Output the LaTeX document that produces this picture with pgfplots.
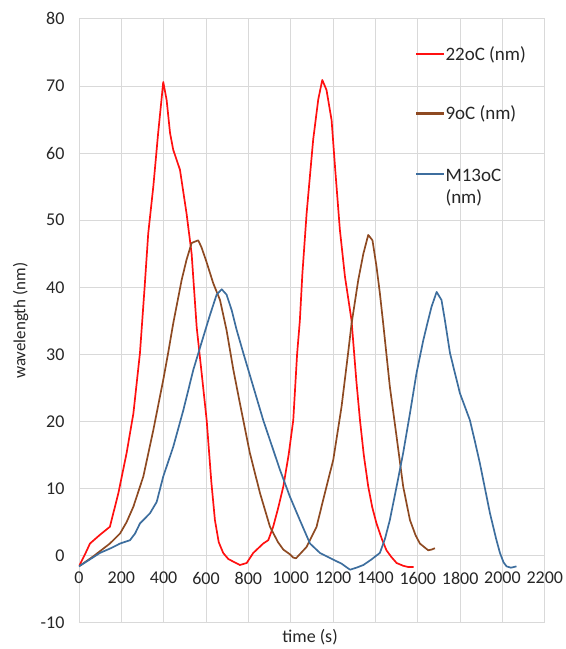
\documentclass[border=0pt]{standalone}
\usepackage{fontspec}
\setmainfont{Carlito}
\usepackage{pgfplots}
\pgfplotsset{compat=1.18}
\definecolor{cred}{HTML}{FF1010}
\definecolor{cbrown}{HTML}{8E4A22}
\definecolor{cblue}{HTML}{3D6E9E}
\definecolor{cgrid}{HTML}{D9D9D9}
\begin{document}
\begin{tikzpicture}
\useasboundingbox (-79pt,-26.3pt) rectangle (487pt,622.9pt);
\begin{axis}[
  at={(0pt,0pt)}, anchor=south west,
  scale only axis, width=466pt, height=604pt,
  xmin=0, xmax=2200, ymin=-10, ymax=80,
  xtick={0,200,...,2200}, ytick={-10,0,...,80},
  grid=major, major grid style={cgrid, line width=0.8pt},
  axis line style={draw=none},
  major tick length=0pt,
  /pgf/number format/assume math mode=true,
  /pgf/number format/1000 sep={},
  tick label style={font=\fontsize{18}{21.6}\selectfont, text=black!85},
  label style={font=\fontsize{18}{21.6}\selectfont, text=black!85},
  xticklabel style={yshift=54pt},
  yticklabel style={xshift=-11pt},
  xlabel={time (s)}, ylabel={wavelength (nm)},
  xlabel style={at={(axis description cs:0.496,0)}, anchor=north, yshift=-3pt},
  ylabel style={at={(axis description cs:-0.125,0.5)}, anchor=center, font=\fontsize{17}{20}\selectfont},
  legend style={at={(axis description cs:0.722,0.958)}, anchor=north west,
    draw=none, fill=none, font=\fontsize{19}{22.8}\selectfont, text=black!85,
    row sep=40pt, inner sep=0pt,
    nodes={inner xsep=2pt}},
  legend cell align=left,
  legend image code/.code={\fill[#1, draw=none] (0pt,-1.1pt) rectangle (28pt,1.1pt);},
]
\addplot[color=cred, line width=1.7pt, line join=round] coordinates {
(0,-1.6) (30,0.3) (52,1.8) (99,3.1) (146,4.3) (186,9.3) (225,15.3) (257,21.2)
(288,30.2) (310,40) (327,48) (351,55) (374,63) (398,70.6) (414,67.9) (430,63)
(445,60.5) (477,57.5) (508,51) (532,45) (556,34) (580,27) (603,20.2) (625,11)
(642,5.3) (660,2) (681,0.4) (705,-0.5) (729,-0.9) (760,-1.4) (792,-1.1) (823,0.4)
(850,1.2) (870,1.8) (894,2.3) (917,4.3) (940,7) (965,10.3) (990,15) (1012,20.2)
(1030,30) (1043,35) (1055,42) (1075,51) (1106,62) (1130,68) (1149,70.9) (1169,69.4)
(1193,64.9) (1209,58) (1232,48.6) (1256,41.6) (1287,35.1) (1310,26) (1327,20.2)
(1345,15) (1366,10.3) (1385,7.2) (1405,4.8) (1430,2.5) (1452,0.8) (1475,-0.2)
(1500,-1.1) (1530,-1.5) (1555,-1.7) (1580,-1.7)
};
\addlegendentry{22oC (nm)}
\addplot[color=cbrown, line width=1.7pt, line join=round] coordinates {
(0,-1.6) (68,-0.1) (146,1.8) (194,3.3) (225,5) (257,7.3) (304,11.8) (351,18.7)
(398,26.2) (420,30) (445,34.6) (485,41.1) (508,44.1) (532,46.6) (563,47) (578,46)
(600,44) (634,40.6) (666,38.1) (697,33.6) (729,27.7) (760,22.7) (807,15.3) (855,9.3)
(902,4.3) (940,2) (965,0.9) (996,0.2) (1012,-0.3) (1025,-0.4) (1075,1.3) (1122,4.3)
(1161,9.3) (1201,14.3) (1240,22.2) (1271,30.2) (1287,34.5) (1319,41.1) (1343,45)
(1366,47.8) (1386,47) (1405,43.1) (1421,39.1) (1437,34.5) (1468,25.2) (1500,17.7)
(1531,10.3) (1563,5.3) (1590,3) (1610,1.8) (1649,0.8) (1665,0.9) (1681,1.1)
};
\addlegendentry{9oC (nm)}
\addplot[color=cblue, line width=1.7pt, line join=round] coordinates {
(0,-1.6) (50,-0.6) (99,0.4) (150,1.1) (194,1.8) (241,2.3) (265,3.3) (288,4.8)
(335,6.3) (367,8) (398,11.8) (445,16.2) (493,21.7) (540,27.7) (587,32.6) (618,35.8)
(650,38.9) (674,39.7) (697,38.9) (721,36.6) (745,33.6) (776,30.2) (823,25.2)
(870,20.2) (917,15.8) (949,12.8) (996,8.8) (1043,5.3) (1091,1.8) (1138,0.4)
(1201,-0.6) (1240,-1.2) (1280,-2.1) (1310,-1.8) (1343,-1.4) (1380,-0.6) (1421,0.4)
(1445,2.5) (1468,5.3) (1500,10.3) (1531,15.3) (1563,21.2) (1594,27.2) (1626,32.1)
(1649,35.1) (1665,37.1) (1689,39.3) (1712,38.1) (1728,35.1) (1752,30.2) (1799,24.2)
(1846,20.2) (1870,17) (1893,13.8) (1941,6.3) (1970,2.5) (1988,0.4) (2005,-1)
(2019,-1.6) (2040,-1.8) (2066,-1.6)
};
\addlegendentry{\raisebox{0pt}[\height][0pt]{\begin{tabular}[t]{@{}l@{}}M13oC\\(nm)\end{tabular}}}
\end{axis}
\end{tikzpicture}
\end{document}
